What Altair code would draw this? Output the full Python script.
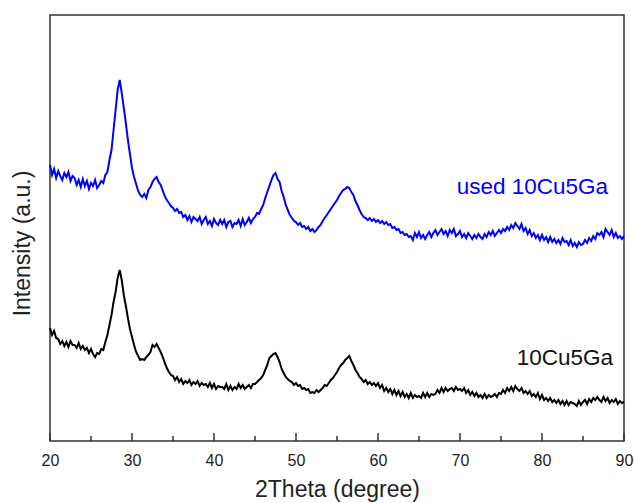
import altair as alt
import pandas as pd

# 2Theta from 20 to 90 in 0.25 degree steps
two_theta = [20 + 0.25 * i for i in range(281)]

used_10cu5ga = [
    276, 266, 272, 263, 270, 265, 261, 268, 264, 269, 260, 265, 263, 256, 261, 254,
    262, 255, 260, 252, 258, 255, 261, 253, 256, 260, 258, 266, 269, 281, 291, 311,
    331, 351, 361, 348, 333, 318, 301, 287, 273, 264, 257, 250, 246, 244, 247, 243,
    251, 254, 259, 262, 264, 259, 256, 250, 245, 241, 238, 235, 233, 230, 232, 228,
    229, 224, 226, 221, 225, 219, 224, 222, 220, 224, 217, 221, 224, 217, 220, 215,
    222, 218, 216, 221, 217, 221, 214, 219, 220, 214, 218, 217, 221, 215, 222, 216,
    219, 223, 218, 222, 224, 228, 227, 232, 236, 243, 249, 255, 261, 266, 268, 262,
    259, 250, 244, 236, 231, 226, 223, 220, 219, 216, 218, 214, 215, 212, 214, 210,
    212, 209, 211, 214, 216, 220, 223, 226, 229, 232, 235, 238, 241, 245, 248, 251,
    252, 254, 253, 249, 246, 240, 236, 231, 227, 224, 223, 221, 223, 220, 222, 219,
    221, 218, 220, 217, 219, 216, 217, 213, 214, 211, 212, 208, 209, 206, 207, 204,
    205, 201, 208, 204, 209, 203, 206, 202, 206, 209, 204, 208, 211, 206, 209, 212,
    207, 210, 205, 211, 208, 212, 205, 207, 210, 204, 207, 203, 208, 205, 202, 206,
    203, 207, 204, 202, 207, 204, 209, 206, 210, 205, 208, 211, 208, 212, 210, 214,
    211, 216, 213, 218, 215, 212, 217, 210, 213, 207, 211, 205, 208, 203, 206, 201,
    206, 201, 204, 199, 204, 199, 202, 198, 201, 197, 203, 199, 200, 196, 201, 195,
    198, 194, 199, 196, 197, 201, 198, 203, 200, 205, 202, 208, 206, 209, 204, 212,
    209, 206, 211, 204, 208, 203, 205, 202, 205,
]

fresh_10cu5ga = [
    113, 106, 110, 103, 102, 97, 100, 95, 99, 94, 100, 96, 96, 93, 98, 92,
    95, 91, 93, 88, 92, 87, 84, 88, 87, 92, 91, 99, 106, 116, 126, 139,
    149, 163, 171, 161, 146, 135, 123, 112, 104, 96, 89, 85, 81, 82, 81, 84,
    86, 89, 96, 94, 97, 93, 89, 84, 78, 73, 69, 66, 65, 61, 64, 59,
    62, 57, 60, 58, 61, 56, 59, 57, 60, 55, 58, 56, 57, 54, 58, 53,
    57, 52, 55, 54, 54, 52, 57, 51, 55, 51, 54, 52, 57, 53, 56, 52,
    54, 56, 53, 57, 57, 59, 61, 63, 66, 71, 76, 83, 85, 87, 88, 84,
    79, 72, 68, 64, 62, 60, 59, 56, 58, 55, 56, 52, 53, 51, 52, 48,
    49, 48, 51, 49, 51, 53, 56, 55, 58, 61, 63, 66, 69, 73, 76, 78,
    81, 83, 85, 80, 76, 71, 68, 64, 62, 59, 61, 57, 59, 56, 58, 55,
    58, 53, 56, 50, 53, 49, 52, 47, 51, 46, 50, 45, 49, 44, 47, 43,
    48, 43, 46, 44, 45, 43, 48, 44, 48, 44, 47, 46, 47, 51, 48, 53,
    49, 53, 50, 52, 53, 50, 54, 51, 52, 50, 53, 48, 51, 46, 49, 45,
    48, 44, 46, 43, 47, 43, 46, 44, 45, 47, 44, 48, 47, 51, 48, 53,
    50, 54, 50, 55, 52, 50, 53, 48, 50, 47, 50, 45, 47, 44, 48, 42,
    46, 41, 43, 40, 43, 39, 41, 38, 41, 37, 40, 36, 40, 36, 39, 38,
    37, 35, 40, 36, 39, 41, 37, 42, 39, 43, 41, 44, 41, 39, 44, 40,
    43, 38, 41, 39, 42, 37, 40, 38, 39,
]

major_ticks = [20, 30, 40, 50, 60, 70, 80, 90]
minor_ticks = [25, 35, 45, 55, 65, 75, 85]

W, H = 574, 426
FONT = "Liberation Sans"

df = pd.DataFrame({
    "theta": two_theta * 2,
    "intensity": used_10cu5ga + fresh_10cu5ga,
    "series": ["used 10Cu5Ga"] * len(two_theta) + ["10Cu5Ga"] * len(two_theta),
})

xscale = alt.Scale(domain=[20, 90], nice=False, zero=False)
yscale = alt.Scale(domain=[0, 426], nice=False, zero=False)

lines = alt.Chart(df).mark_line(strokeWidth=2, strokeJoin="miter").encode(
    x=alt.X("theta:Q", scale=xscale,
            axis=alt.Axis(values=major_ticks, ticks=False, domain=False, grid=False,
                          labelFlush=False, labelOverlap=False,
                          labelFontSize=16, labelFont=FONT, labelColor="#222222",
                          labelPadding=11, title="2Theta (degree)", titleFont=FONT,
                          titleFontSize=23, titleFontWeight="normal", titleColor="#222222",
                          titlePadding=10)),
    y=alt.Y("intensity:Q", scale=yscale,
            axis=alt.Axis(labels=False, ticks=False, domain=False, grid=False,
                          title="Intensity (a.u.)", titleFont=FONT, titleFontSize=23,
                          titleFontWeight="normal", titleColor="#222222",
                          titleX=-28, titleY=228, titleBaseline="middle")),
    color=alt.Color("series:N",
                    scale=alt.Scale(domain=["used 10Cu5Ga", "10Cu5Ga"], range=["#0000ff", "#000000"]),
                    legend=None),
    detail="series:N",
)

major = alt.Chart(pd.DataFrame({"t": major_ticks})).mark_rule(color="#333333", strokeWidth=1.5).encode(
    x=alt.X("t:Q", scale=xscale), y=alt.value(H - 8), y2=alt.value(H)
)
minor = alt.Chart(pd.DataFrame({"t": minor_ticks})).mark_rule(color="#333333", strokeWidth=1.5).encode(
    x=alt.X("t:Q", scale=xscale), y=alt.value(H - 5), y2=alt.value(H)
)

lab_used = alt.Chart(pd.DataFrame({"label": ["used 10Cu5Ga"]})).mark_text(
    font=FONT, fontSize=22.5, color="#0000ff", align="right", baseline="middle"
).encode(text="label:N", x=alt.value(558), y=alt.value(172))

lab_fresh = alt.Chart(pd.DataFrame({"label": ["10Cu5Ga"]})).mark_text(
    font=FONT, fontSize=22.5, color="#111111", align="right", baseline="middle"
).encode(text="label:N", x=alt.value(563), y=alt.value(343))

chart = alt.layer(lines, major, minor, lab_used, lab_fresh).properties(
    width=W, height=H,
    autosize=alt.AutoSizeParams(type="none"),
    padding={"left": 50, "top": 15, "right": 10, "bottom": 62},
    background="white",
).configure_view(stroke="#333333", strokeWidth=1.5)

chart.save("out.html", embed_options={"renderer": "svg", "actions": False})
